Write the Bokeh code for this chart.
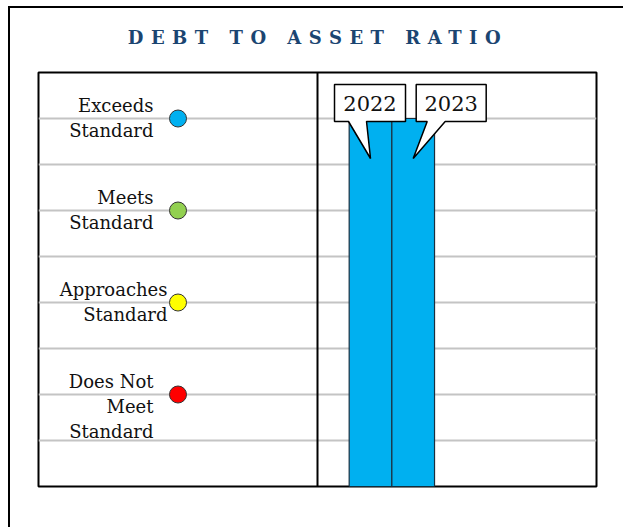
from bokeh.plotting import figure
from bokeh.models import Div, FixedTicker, Span, ColumnDataSource
from bokeh.layouts import column
from bokeh.embed import file_html
from bokeh.resources import INLINE
from bokeh.core.properties import value

# ---- data ----
title_text = "DEBT TO ASSET RATIO"
level_labels = ["Does Not\nMeet\nStandard", "Approaches\nStandard", "Meets\nStandard", "Exceeds\nStandard"]
level_values = [2, 4, 6, 8]
level_colors = ["#ff0000", "#ffff00", "#92d050", "#00b0f0"]
years = ["2022", "2023"]
year_ratings = [8, 8]
grid_levels = [1, 2, 3, 4, 5, 6, 7, 8]

# ---- layout constants ----
FW, FH = 558, 414          # frame size in px
X0, X1, Y0, Y1 = 0, 2, 0, 9
PX = (X1 - X0) / FW        # data units per px (x)
PY = (Y1 - Y0) / FH        # data units per px (y)
SERIF = "DejaVu Serif"
TOTAL_W = 613

title = Div(
    text=('<div style="width:608px;text-align:center;margin-top:17px;padding-left:8px;'
          'box-sizing:border-box;'
          'font-family:\'DejaVu Serif\';font-weight:bold;font-size:18px;'
          'letter-spacing:7.5px;color:#1b4571;white-space:nowrap;">'
          + title_text + '</div>'),
    width=TOTAL_W, height=42, margin=0)

p = figure(width=TOTAL_W, height=22 + FH + 41, frame_width=FW, frame_height=FH,
           x_range=(X0, X1), y_range=(Y0, Y1), output_backend="svg",
           toolbar_location=None, min_border_left=28, min_border_top=22,
           min_border_right=TOTAL_W - 28 - FW, min_border_bottom=41, margin=0)
p.xaxis.visible = False
p.yaxis.visible = False
p.xgrid.visible = False
p.ygrid.ticker = FixedTicker(ticks=grid_levels)
p.ygrid.grid_line_color = "#c4c4c4"
p.ygrid.grid_line_width = 2
p.outline_line_color = "black"
p.outline_line_width = 2
p.background_fill_color = "white"
p.border_fill_color = "white"

# divider between the label panel and the bar panel
p.add_layout(Span(location=1, dimension="height", line_color="black", line_width=2))

# rating markers
marker_x = 0.5
p.scatter(x=[marker_x] * len(level_values), y=level_values, size=17,
          fill_color=level_colors, line_color="#333333", line_width=1)

# rating labels (right-aligned, left of markers)
label_right_px = [153, 167, 153, 153]
lab_x = [(r - 38) * PX for r in label_right_px]
lab_y = [v + 24 * PY for v in level_values]
p.text(x=lab_x, y=lab_y, text=level_labels, text_align="right", text_baseline="top",
       text_font=value(SERIF), text_font_size="18px", text_color="#111111",
       text_line_height=1.2)

# bars
bar_w = 0.153
bar_x = [1.19, 1.19 + bar_w]
src = ColumnDataSource(dict(x=bar_x, top=year_ratings, year=years))
p.vbar(x="x", top="top", bottom=0, width=bar_w, source=src,
       fill_color="#00b0f0", line_color="#1b2f3f", line_width=1.2)

# callouts
box_off = [(-36, 35, -22, -4), (3, 73, 14, 32)]  # left, right, tail-left, tail-right (px from tip)
xs, ys, tx, ty = [], [], [], []
for bx, top, (l, r, tl, tr) in zip(bar_x, year_ratings, box_off):
    tip_x, tip_y = bx, top - 40 * PY
    b_bot = tip_y + 37 * PY
    b_top = tip_y + 74 * PY
    xs.append([bx + l * PX, bx + r * PX, bx + r * PX, bx + tr * PX, tip_x,
               bx + tl * PX, bx + l * PX])
    ys.append([b_top, b_top, b_bot, b_bot, tip_y, b_bot, b_bot])
    tx.append(bx + (l + r) / 2 * PX)
    ty.append((b_top + b_bot) / 2)
p.patches(xs=xs, ys=ys, fill_color="white", line_color="black", line_width=1.5)
p.text(x=tx, y=ty, text=years, text_align="center", text_baseline="middle",
       text_font=value(SERIF), text_font_size="21px", text_color="#111111")

layout = column(title, p, spacing=0, margin=(6, 0, 0, 8))
layout.styles = {"border-left": "2px solid black", "border-top": "2px solid black",
                 "background-color": "white"}

open("out.html", "w").write(file_html(layout, INLINE))
